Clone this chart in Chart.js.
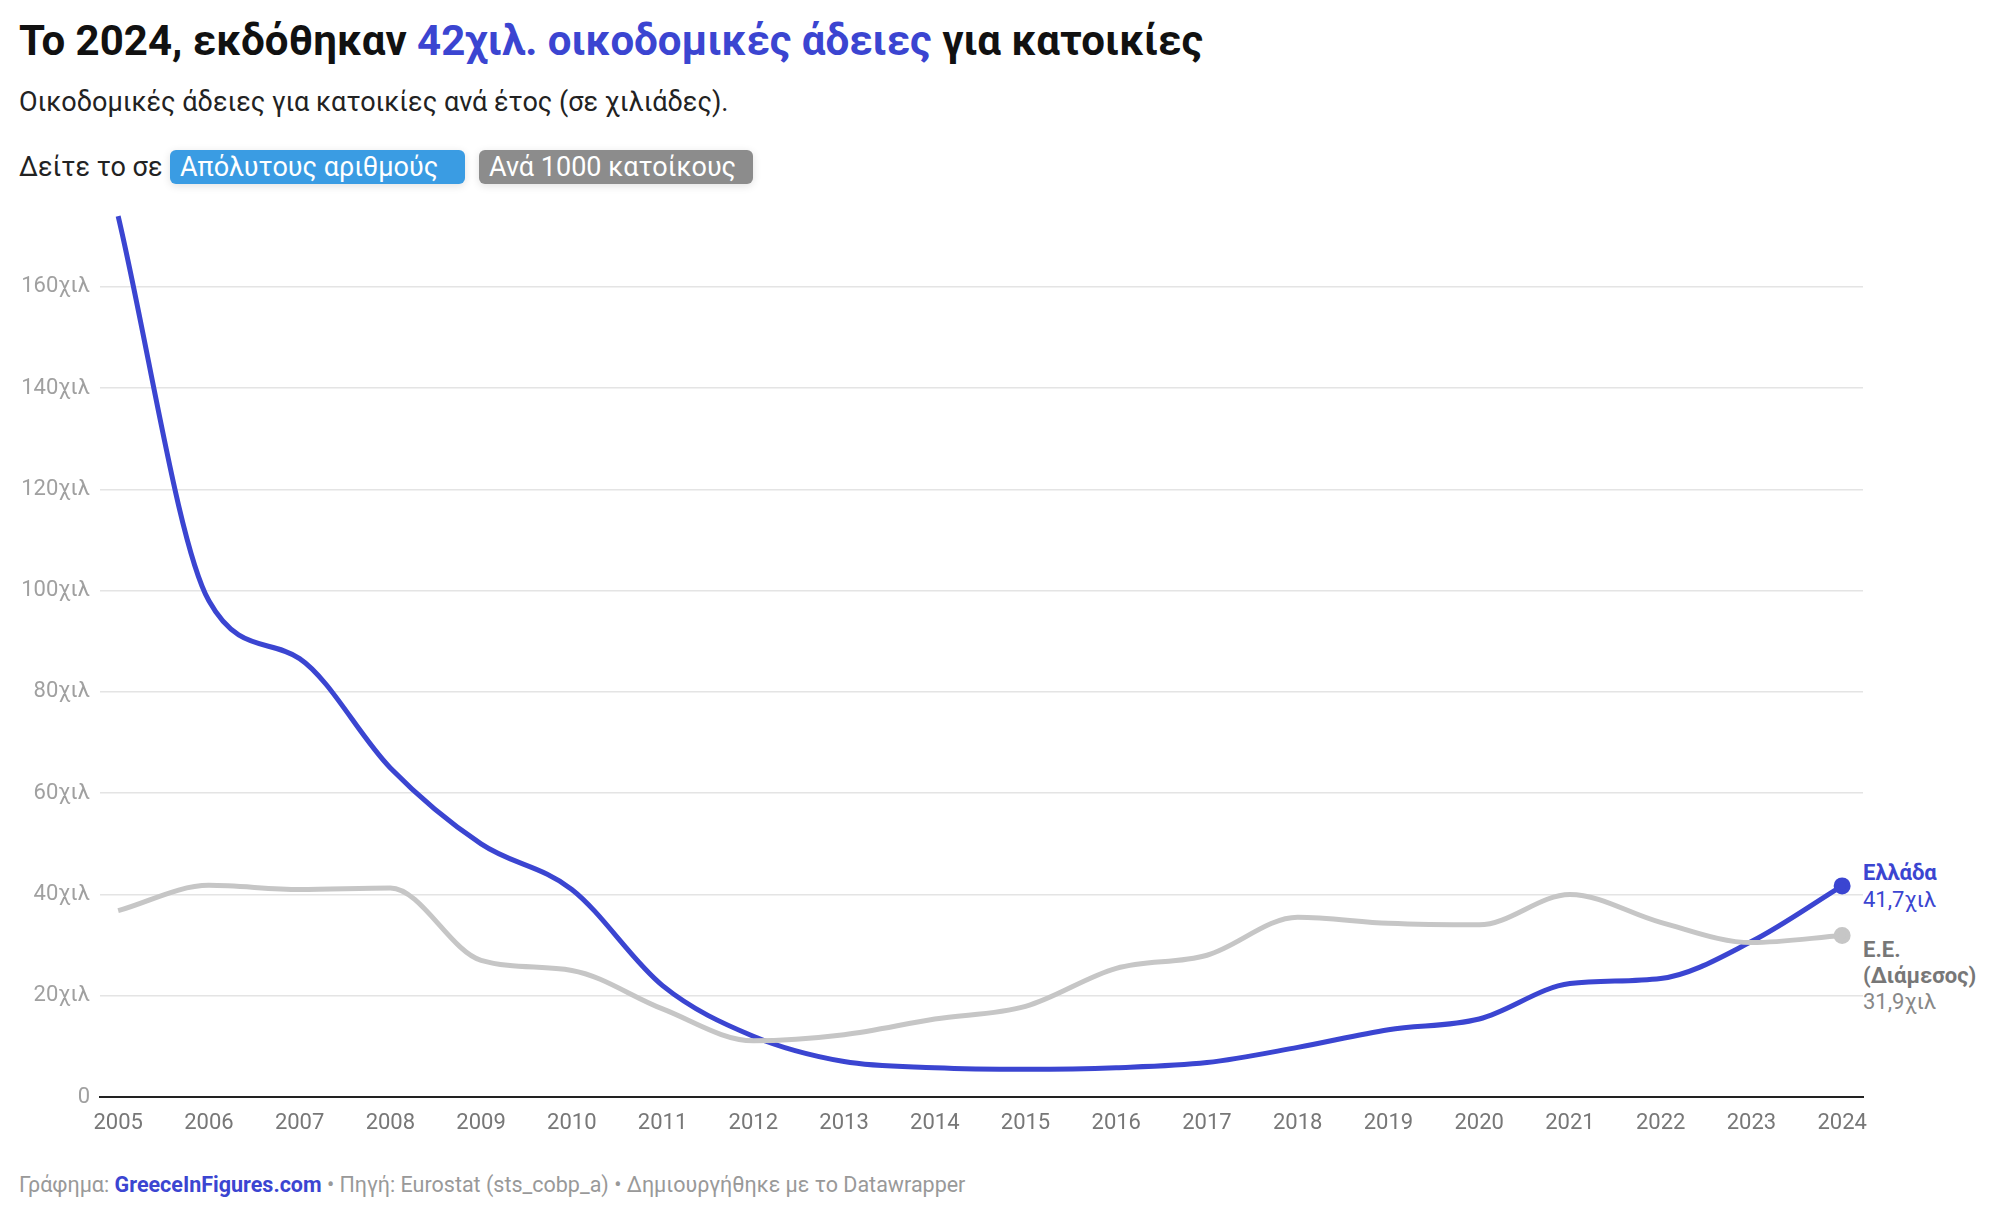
<!DOCTYPE html>
<html><head><meta charset="utf-8">
<script src="https://cdn.jsdelivr.net/npm/chart.js@4"></script>
<style>
body{margin:0;width:2000px;height:1216px;background:#fff;font-family:Roboto,sans-serif;position:relative;overflow:hidden}
.t{position:absolute;white-space:nowrap}
#c{position:absolute;left:0;top:0}
.btn{position:absolute;top:150px;height:34px;border-radius:6px;color:#fff;font-size:27px;line-height:34px;padding:0 10px;box-shadow:0 2px 8px rgba(0,0,0,.12)}
</style></head><body>
<div class="t" style="left:19px;top:16px;font-size:42px;font-weight:700;color:#111">Το 2024, εκδόθηκαν <span style="color:#3b45d1">42χιλ. οικοδομικές άδειες</span> για κατοικίες</div>
<div class="t" style="left:19px;top:86px;font-size:27px;color:#222">Οικοδομικές άδειες για κατοικίες ανά έτος (σε χιλιάδες).</div>
<div class="t" style="left:19px;top:150px;font-size:27px;color:#222;line-height:34px">Δείτε το σε</div>
<div class="btn" style="left:170px;width:275px;background:#3a9ce3">Απόλυτους αριθμούς</div>
<div class="btn" style="left:479px;width:254px;background:#8c8c8c">Ανά 1000 κατοίκους</div>
<div class="t" style="left:1863px;top:860px;font-size:22px;font-weight:700;color:#3b45d1">Ελλάδα</div>
<div class="t" style="left:1863px;top:887px;font-size:22px;color:#3b45d1">41,7χιλ</div>
<div class="t" style="left:1863px;top:937px;font-size:22px;font-weight:700;color:#777">Ε.Ε.</div>
<div class="t" style="left:1863px;top:963px;font-size:22px;font-weight:700;color:#777">(Διάμεσος)</div>
<div class="t" style="left:1863px;top:989px;font-size:22px;color:#888">31,9χιλ</div>
<div class="t" style="left:19px;top:1172px;font-size:21.5px;color:#999">Γράφημα: <b style="color:#3b45d1">GreeceInFigures.com</b> • Πηγή: Eurostat (sts_cobp_a) • Δημιουργήθηκε με το Datawrapper</div>
<canvas id="c" width="2000" height="1216"></canvas>
<script>
const years=[2005,2006,2007,2008,2009,2010,2011,2012,2013,2014,2015,2016,2017,2018,2019,2020,2021,2022,2023,2024];
const greece=[174,98,86.6,65,50,41,22,12,7,5.8,5.5,5.8,6.8,9.8,13.3,15.4,22.4,23.4,30.7,41.7];
const eu=[36.8,41.8,41,41.3,27,25,17.4,11.1,12.3,15.4,17.9,25.4,28,35.5,34.3,34,40,34.5,30.5,31.9];
const yTicks=[0,20,40,60,80,100,120,140,160];
const last=years.length-1;
const pts=(arr)=>arr.map((v,i)=>({x:years[i],y:v}));
new Chart(document.getElementById('c'),{
 type:'line',
 data:{datasets:[
  {data:pts(greece),borderColor:'#3b45d1',backgroundColor:'#3b45d1',borderWidth:5,cubicInterpolationMode:'monotone',pointRadius:years.map((_,i)=>i===last?6:0)},
  {data:pts(eu),borderColor:'#c6c6c6',backgroundColor:'#c6c6c6',borderWidth:5,cubicInterpolationMode:'monotone',pointRadius:years.map((_,i)=>i===last?6:0)}
 ].reverse()},
 options:{responsive:false,animation:false,
  layout:{padding:{top:211,right:137,bottom:59,left:0}},
  plugins:{legend:{display:false},tooltip:{enabled:false}},
  scales:{
   x:{type:'linear',min:2004.8,max:2024.23,afterFit:s=>{s.height=60},
      afterBuildTicks:s=>{s.ticks=years.map(v=>({value:v}))},
      grid:{display:false},border:{color:'#222',width:2},
      ticks:{font:{family:'Roboto',size:22},color:'#777',padding:5,maxRotation:0,autoSkip:false,callback:v=>String(v)}},
   y:{min:0,max:175,afterFit:s=>{s.width=100},
      afterBuildTicks:s=>{s.ticks=yTicks.map(v=>({value:v}))},
      grid:{color:c=>c.tick&&c.tick.value===0?'rgba(0,0,0,0)':'#e4e4e4',lineWidth:1.5,drawTicks:false},
      border:{display:false},
      ticks:{font:{family:'Roboto',size:22},color:'#a0a0a0',padding:10,callback:v=>v===0?'0':v+'χιλ'}}
  }}
});
</script></body></html>
